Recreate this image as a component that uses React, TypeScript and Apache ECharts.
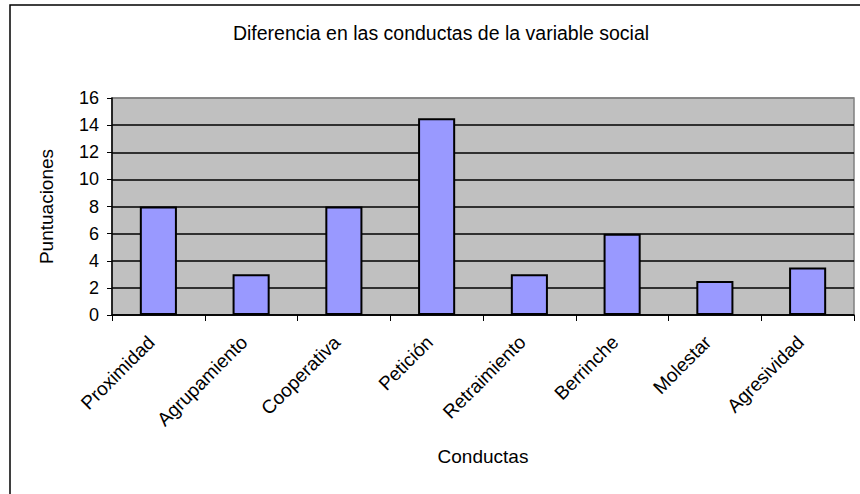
import React, { useEffect, useRef } from "react";
import * as echarts from "echarts";

const categories = [
  "Proximidad",
  "Agrupamiento",
  "Cooperativa",
  "Petición",
  "Retraimiento",
  "Berrinche",
  "Molestar",
  "Agresividad",
];
const puntuaciones = [8, 3, 8, 14.5, 3, 6, 2.5, 3.5];
const yTicks = { min: 0, max: 16, interval: 2 };

const FONT = "'Liberation Sans', Arial, sans-serif";

export default function App() {
  const ref = useRef<HTMLDivElement>(null);

  useEffect(() => {
    if (!ref.current) return;
    const chart = echarts.init(ref.current, undefined, { renderer: "svg" });
    const lineCount = (yTicks.max - yTicks.min) / yTicks.interval + 1;
    const splitColors = Array.from({ length: lineCount }, (_, i) =>
      i === lineCount - 1 ? "#808080" : "#000000"
    );
    chart.setOption({
      animation: false,
      backgroundColor: "#ffffff",
      textStyle: { fontFamily: FONT },
      grid: {
        left: 112,
        right: 6,
        top: 98,
        bottom: 179,
        show: true,
        backgroundColor: "#C0C0C0",
        borderColor: "#808080",
        borderWidth: 1.5,
      },
      graphic: [
        {
          type: "rect",
          shape: { x: 10, y: 5, width: 900, height: 600 },
          style: { fill: "none", stroke: "#000", lineWidth: 1.5 },
          silent: true,
        },
        {
          type: "text",
          x: 441,
          y: 33,
          style: {
            text: "Diferencia en las conductas de la variable social",
            fill: "#000",
            font: `19.5px ${FONT}`,
            textAlign: "center",
            textVerticalAlign: "middle",
          },
        },
      ],
      xAxis: {
        type: "category",
        data: categories,
        name: "Conductas",
        nameLocation: "middle",
        nameGap: 132,
        nameTextStyle: { fontSize: 19, color: "#000", fontFamily: FONT },
        axisLine: { lineStyle: { color: "#000", width: 1.5 } },
        axisTick: { show: true, length: 6, lineStyle: { color: "#000" } },
        axisLabel: {
          rotate: 45,
          interval: 0,
          fontSize: 19,
          color: "#000",
          margin: 17,
          padding: [0, 10, 0, 0],
          fontFamily: FONT,
        },
        splitLine: { show: false },
      },
      yAxis: {
        type: "value",
        min: yTicks.min,
        max: yTicks.max,
        interval: yTicks.interval,
        name: "Puntuaciones",
        nameLocation: "middle",
        nameGap: 56,
        nameRotate: 90,
        nameTextStyle: { fontSize: 19, color: "#000", fontFamily: FONT },
        axisLine: { show: true, lineStyle: { color: "#000", width: 1.5 } },
        axisTick: { show: true, length: 5, lineStyle: { color: "#000" } },
        axisLabel: { fontSize: 18, color: "#000", margin: 13, fontFamily: FONT },
        splitLine: { show: true, lineStyle: { color: splitColors, width: 1.5 } },
      },
      series: [
        {
          type: "bar",
          data: puntuaciones,
          barCategoryGap: "60%",
          itemStyle: { color: "#9999FF", borderColor: "#000", borderWidth: 2 },
        },
      ],
    });
    return () => chart.dispose();
  }, []);

  return (
    <div
      ref={ref}
      style={{ position: "fixed", left: 0, top: 0, width: 860, height: 494 }}
    />
  );
}
